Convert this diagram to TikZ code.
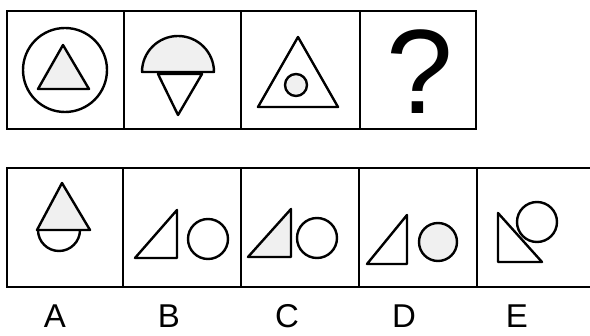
\documentclass[tikz,border=0pt]{standalone}
\usepackage{fontspec}
\setmainfont{Liberation Sans}
\begin{document}
\begin{tikzpicture}[
    x=1pt, y=-1pt,
    frame/.style={line width=2.3pt},
    fig/.style={line width=2.4pt, line join=round},
    dotty/.style={fill=gray!12},
    lbl/.style={font=\fontsize{33}{33}\selectfont, inner sep=0pt},
]
\useasboundingbox (0,0) rectangle (590,336);

% Top row
\draw[frame] (7,11) rectangle (476,129);
\draw[frame] (124,11) -- (124,129);
\draw[frame] (241,11) -- (241,129);
\draw[frame] (360,11) -- (360,129);

% circle with triangle
\draw[fig] (65,70) circle[radius=42];
\draw[fig, dotty] (63,45) -- (89,89) -- (38,89) -- cycle;

% half disc over triangle
\draw[fig, dotty] (142,72) arc[start angle=180, end angle=360, radius=36] -- cycle;
\draw[fig] (158,74) -- (202,74) -- (178,115) -- cycle;

% triangle with dot
\draw[fig] (298,37) -- (338,107) -- (258,107) -- cycle;
\draw[fig, dotty] (296,85) circle[radius=11];

\node[font=\fontsize{120}{120}\selectfont, inner sep=0pt] (q) at (420,72) {?};

% Bottom row
\draw[frame] (590,168) -- (7,168) -- (7,287) -- (590,287);
\draw[frame] (123,168) -- (123,287);
\draw[frame] (241,168) -- (241,287);
\draw[frame] (359,168) -- (359,287);
\draw[frame] (477,168) -- (477,287);

% A
\draw[fig, dotty] (62,183) -- (90,230) -- (37,230) -- cycle;
\draw[fig] (38,230) arc[start angle=180, end angle=0, radius=21];

% B
\draw[fig] (135,258) -- (177,258) -- (177,210) -- cycle;
\draw[fig] (208,239) circle[radius=20];

% C
\draw[fig, dotty] (248,257) -- (291,257) -- (291,209) -- cycle;
\draw[fig] (317,238) circle[radius=20];

% D
\draw[fig] (367,264) -- (407,264) -- (407,215) -- cycle;
\draw[fig, dotty] (438,242) circle[radius=19];

% E
\draw[fig] (498,213) -- (498,262) -- (542,262) -- cycle;
\draw[fig] (537,222) circle[radius=20];

% Labels
\node[lbl] (labA) at (55,316) {A};
\node[lbl] (labB) at (169,316) {B};
\node[lbl] (labC) at (287,316) {C};
\node[lbl] (labD) at (404,316) {D};
\node[lbl] (labE) at (517,316) {E};

\end{tikzpicture}
\end{document}
